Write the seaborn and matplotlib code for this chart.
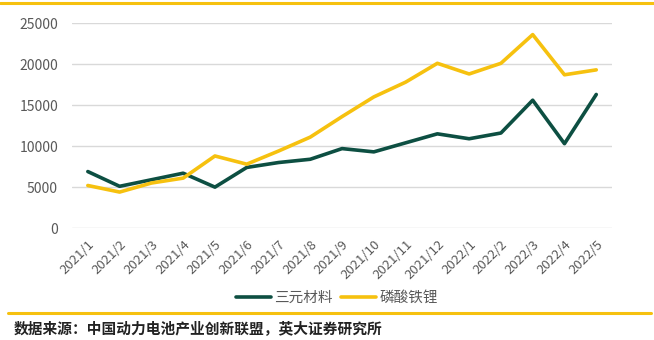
import matplotlib
matplotlib.use("Agg")
import matplotlib.pyplot as plt
from matplotlib.lines import Line2D
import seaborn as sns
import pandas as pd

months = ["2021/1", "2021/2", "2021/3", "2021/4", "2021/5", "2021/6", "2021/7",
          "2021/8", "2021/9", "2021/10", "2021/11", "2021/12", "2022/1",
          "2022/2", "2022/3", "2022/4", "2022/5"]
ternary = [6900, 5100, 5900, 6700, 5000, 7400, 8000, 8400, 9700, 9300,
           10400, 11500, 10900, 11600, 15600, 10300, 16300]
lfp = [5200, 4400, 5500, 6100, 8800, 7800, 9400, 11100, 13600, 16000,
       17800, 20100, 18800, 20100, 23600, 18700, 19300]
series_names = ["三元材料", "磷酸铁锂"]
yticks = [0, 5000, 10000, 15000, 20000, 25000]
source = "数据来源：中国动力电池产业创新联盟，英大证券研究所"

GREEN = "#0d4f42"
YELLOW = "#f6c10f"
GRAY = "#595959"

sns.set_theme(style="white")
plt.rcParams["font.family"] = ["Noto Sans CJK SC", "DejaVu Sans"]

df = pd.DataFrame({
    "month": months * 2,
    "value": ternary + lfp,
    "series": [series_names[0]] * len(months) + [series_names[1]] * len(months),
})

fig = plt.figure(figsize=(6.54, 3.40), dpi=100)
ax = fig.add_axes([0.110, 0.329, 0.826, 0.603])

sns.lineplot(data=df, x="month", y="value", hue="series",
             palette={series_names[0]: GREEN, series_names[1]: YELLOW},
             linewidth=2.6, sort=False, legend=False, ax=ax)

ax.set_xlim(-0.5, len(months) - 0.5)
ax.set_ylim(0, 25000)
ax.set_yticks(yticks)
ax.set_yticklabels([str(v) for v in yticks], fontsize=10, color=GRAY)
ax.set_xticks(range(len(months)))
ax.set_xticklabels(months, rotation=45, ha="right", rotation_mode="anchor",
                   fontsize=9.5, color=GRAY)
ax.tick_params(axis="y", length=0, pad=10)
ax.tick_params(axis="x", length=0, pad=7)
ax.yaxis.grid(True, color="#d9d9d9", linewidth=1)
ax.set_axisbelow(True)
for s in ax.spines.values():
    s.set_visible(False)
ax.set_xlabel("")
ax.set_ylabel("")

handles = [Line2D([0], [0], color=GREEN, lw=2.6),
           Line2D([0], [0], color=YELLOW, lw=2.6)]
fig.legend(handles, series_names, loc="center", bbox_to_anchor=(0.515, 0.124),
           ncol=2, frameon=False, fontsize=10.5, handlelength=2.4,
           handletextpad=0.2, columnspacing=0.6, labelcolor=GRAY)

# decorative rules above and below the chart
fig.add_artist(Line2D([0.0, 1.0], [0.991, 0.991], color=YELLOW, lw=2.2,
                      transform=fig.transFigure))
fig.add_artist(Line2D([0.012, 0.995], [0.080, 0.080], color=YELLOW, lw=2.2,
                      transform=fig.transFigure))

fig.text(0.021, 0.036, source, fontsize=10.6, fontweight="bold", color="#222222",
         ha="left", va="center")

fig.savefig("out.png", dpi=100, facecolor="white")
